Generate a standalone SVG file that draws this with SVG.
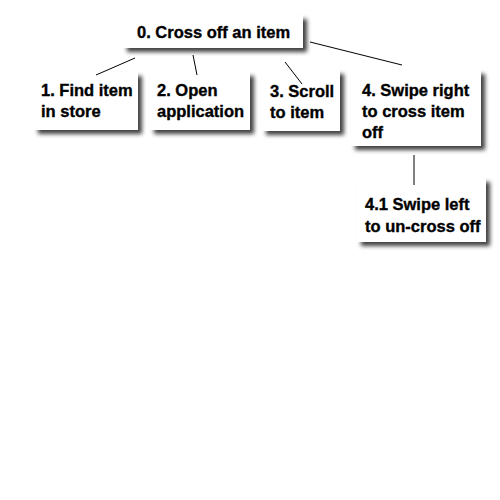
<svg xmlns="http://www.w3.org/2000/svg" width="500" height="500" viewBox="0 0 500 500">
<defs>
<filter id="sh" x="-20%" y="-20%" width="150%" height="160%">
<feDropShadow dx="4" dy="4" stdDeviation="2" flood-color="#000" flood-opacity="0.75"/>
</filter>
</defs>
<style>
.box{fill:#fff;filter:url(#sh)}
.t{font-family:"Liberation Sans",Arial,sans-serif;font-weight:bold;font-size:16.5px;fill:#000;stroke:#000;stroke-width:0.35}
.c{stroke:#000;stroke-width:1;fill:none}
</style>
<rect width="500" height="500" fill="#fff"/>
<g id="n0"><rect class="box" x="123" y="15" width="180" height="33"/><text class="t" x="137" y="38">0. Cross off an item</text></g>
<g id="n1"><rect class="box" x="34" y="72" width="104" height="58"/><text class="t" x="41" y="96">1. Find item</text><text class="t" x="41" y="117">in store</text></g>
<g id="n2"><rect class="box" x="150" y="72" width="100" height="58"/><text class="t" x="157" y="96">2. Open</text><text class="t" x="157" y="117">application</text></g>
<g id="n3"><rect class="box" x="262" y="70" width="78" height="61"/><text class="t" x="270" y="97">3. Scroll</text><text class="t" x="270" y="118">to item</text></g>
<g id="n4"><rect class="box" x="351" y="70" width="130" height="76"/><text class="t" x="362" y="96">4. Swipe right</text><text class="t" x="362" y="117">to cross item</text><text class="t" x="362" y="138">off</text></g>
<g id="n41"><rect class="box" x="357" y="178" width="129" height="64"/><text class="t" x="365" y="210">4.1 Swipe left</text><text class="t" x="365" y="232">to un-cross off</text></g>
<g id="connectors">
<line class="c" x1="135" y1="58" x2="96" y2="75"/>
<line class="c" x1="193" y1="55" x2="197" y2="75"/>
<line class="c" x1="285" y1="62" x2="302" y2="84"/>
<line class="c" x1="310" y1="42" x2="402" y2="65"/>
<line class="c" x1="414" y1="155" x2="414" y2="185"/>
</g>
</svg>
